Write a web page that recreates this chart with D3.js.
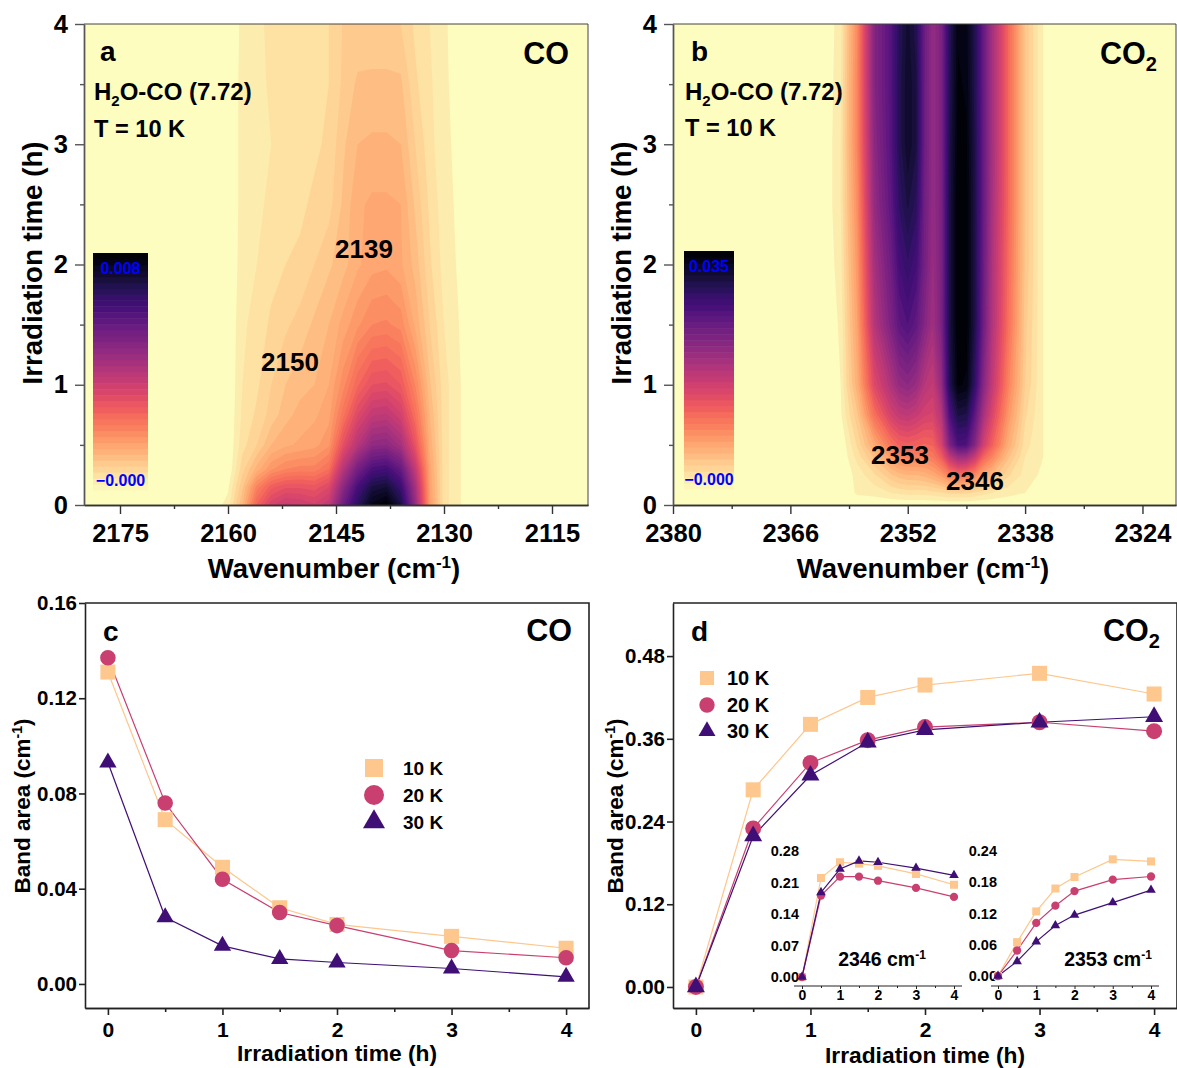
<!DOCTYPE html>
<html>
<head>
<meta charset="utf-8">
<script src="https://cdn.jsdelivr.net/npm/d3@7"></script>
<style>
    body { margin: 0; background: #fff; }
    text { font-family: "Liberation Sans", Arial, sans-serif; font-weight: bold; fill: #000; }
</style>
</head>
<body>
<div id="chart"></div>
<script>
// map a: band of CO, values in % of the colour bar top
var coWavenumbers = [2164, 2162, 2160, 2158, 2156, 2154, 2152, 2150, 2148, 2146, 2144, 2142, 2140, 2138, 2136, 2134, 2132, 2130, 2128, 2126, 2124];
var coTimes = [0, 0.15, 0.3, 0.5, 0.75, 1, 1.5, 2, 2.5, 3, 3.5, 4];
var coMap = [
    [0, 1, 3.5, 15, 33, 42, 46, 45, 43, 47, 68, 84, 96, 100, 88, 58, 21, 6, 3, 0, 0],
    [0, 0, 2, 12, 26, 34, 37, 37, 36, 40, 60, 77, 88, 90, 80, 54, 20, 6, 3, 0, 0],
    [0, 0, 0, 9, 16, 22, 25, 26, 26, 30, 50, 66, 76, 78, 70, 47, 19, 6, 3, 0, 0],
    [0, 0, 0, 6.5, 10, 15, 17, 18, 19, 22, 38, 50, 59, 60, 54, 37, 17, 6, 3, 0, 0],
    [0, 0, 0, 5.5, 8, 11, 14, 16, 17, 19, 29, 40, 47, 48, 43, 30, 15, 6, 3, 0, 0],
    [0, 0, 0, 5, 7, 10, 12.5, 14, 15, 17.5, 24, 32, 37.5, 38, 35, 25, 13, 6, 3, 0, 0],
    [0, 0, 0, 4.5, 6, 8, 9.5, 11, 13, 15, 18.5, 22, 25, 25.5, 24, 17, 10, 5, 2.6, 0, 0],
    [0, 0, 0, 3.8, 5, 6.5, 7.5, 8, 10, 12, 14, 17, 19, 19.5, 18, 14, 8, 4, 2.2, 0, 0],
    [0, 0, 0, 3.5, 4, 6, 6.5, 7, 8, 9, 13, 17, 18, 18, 17.5, 12, 7, 3.5, 2, 0, 0],
    [0, 0, 0, 3.5, 4, 5, 6, 6, 7, 8, 12, 15, 15.5, 15.5, 15, 10, 6, 3, 2, 0, 0],
    [0, 0, 0, 3.5, 4, 5.5, 6, 6, 6.5, 7.5, 10.5, 13, 13, 13, 13, 8, 5.5, 3, 1.5, 0, 0],
    [0, 0, 0, 3.2, 4.5, 5.5, 6, 6, 6, 7.5, 10.2, 10.5, 11, 11, 10, 7, 5, 3, 1, 0, 0]
];

// map b: band of CO2, same units
var co2Wavenumbers = [2364, 2362, 2360, 2358, 2356, 2354, 2353, 2352, 2351, 2350, 2349, 2348, 2347, 2346, 2345, 2344, 2343, 2342, 2340, 2338, 2336, 2334];
var co2Times = [0, 0.1, 0.25, 0.4, 0.5, 0.75, 1, 1.5, 2, 2.5, 3, 3.5, 4];
var co2Map = [
    [0, 0, 0, 0, 0, 0, 0, 0, 0, 0, 0, 0, 0, 0, 0, 0, 0, 0, 0, 0, 0, 0],
    [0, 0, 0, 3, 3.5, 5, 5.5, 6, 6, 6, 6.5, 7, 8, 8, 8, 7, 6, 5, 3.5, 2.5, 0, 0],
    [0, 0, 0, 3.5, 7, 12, 14, 15, 15, 16, 18, 21, 27, 30, 29, 25, 18, 15, 8, 4, 2, 0],
    [0, 0, 0, 6, 13, 21, 25, 26, 26, 26, 28, 34, 48, 56, 55, 46, 33, 26, 13, 5, 2.7, 0],
    [0, 0, 0, 8, 18, 29, 33, 34, 33, 32, 33, 42, 64, 76, 75, 62, 44, 34, 17, 6, 2.7, 0],
    [0, 0, 2, 12, 30, 43, 47, 48, 46, 43, 42, 50, 76, 88, 87, 72, 54, 42, 22, 8, 2.7, 0],
    [0, 0, 2.5, 17, 40, 52, 58, 60, 57, 50, 47, 58, 86, 98, 97, 82, 62, 48, 26, 10, 2.7, 0],
    [0, 0, 3, 20, 50, 64, 72, 75, 71, 62, 55, 64, 88, 100, 99, 87, 68, 52, 30, 11, 2.7, 0],
    [0, 0, 4, 22, 54, 68, 78, 82, 78, 66, 57, 64, 88, 100, 99, 87, 69, 53, 31, 12, 2.7, 0],
    [0, 0, 5, 24, 58, 72, 83, 88, 84, 67, 58, 64, 88, 100, 99, 87, 70, 54, 32, 12, 2.7, 0],
    [0, 0, 5, 26, 60, 74, 86, 92, 88, 68, 58, 64, 87, 99, 98, 87, 70, 55, 32, 12, 2.7, 0],
    [0, 0, 4.5, 26, 62, 74, 86, 92, 88, 68, 58, 64, 86, 98, 97, 86, 70, 55, 32, 12, 2.7, 0],
    [0, 0, 4, 25, 62, 74, 85, 91, 86, 68, 58, 64, 85, 97, 96, 86, 70, 55, 32, 12, 2.7, 0]
];

var hours = [0, 0.5, 1, 1.5, 2, 3, 4];
var seriesNames = ["10 K", "20 K", "30 K"];
var seriesColors = ["#fdc78d", "#c93f6f", "#3f0f76"];
var seriesSymbols = [d3.symbolSquare, d3.symbolCircle, d3.symbolTriangle];

// panel c
var coArea10K = [0.131, 0.069, 0.049, 0.032, 0.025, 0.020, 0.015];
var coArea20K = [0.137, 0.076, 0.044, 0.030, 0.0245, 0.014, 0.011];
var coArea30K = [0.093, 0.028, 0.016, 0.0105, 0.009, 0.0065, 0.003];

// panel d
var co2Area10K = [0, 0.286, 0.381, 0.420, 0.438, 0.455, 0.425];
var co2Area20K = [0, 0.230, 0.325, 0.358, 0.377, 0.384, 0.371];
var co2Area30K = [0, 0.219, 0.307, 0.355, 0.373, 0.384, 0.392];

// insets of panel d
var peak2346_10K = [0, 0.220, 0.255, 0.252, 0.247, 0.229, 0.205];
var peak2346_20K = [0, 0.181, 0.223, 0.223, 0.214, 0.198, 0.178];
var peak2346_30K = [0, 0.188, 0.240, 0.258, 0.255, 0.242, 0.226];
var peak2353_10K = [0, 0.065, 0.124, 0.168, 0.190, 0.224, 0.220];
var peak2353_20K = [0, 0.049, 0.102, 0.135, 0.163, 0.185, 0.191];
var peak2353_30K = [0, 0.028, 0.066, 0.097, 0.117, 0.141, 0.165];

var svg = d3.select("#chart").append("svg")
    .attr("width", 1177)
    .attr("height", 1068)
    .style("display", "block");

var levelCount = 40;

// top of the colour bar is black, bottom the pale end of magma
function levelColor(i) {
    return d3.interpolateMagma(1 - (i + 0.5) / levelCount);
}

// one major axis with labels and a second one with short unlabelled ticks
function addAxis(parent, maker, scale, o) {
    var g = parent.append("g").attr("transform", o.translate);
    if (o.minor) {
        g.append("g").call(maker(scale).tickValues(o.minor).tickSize(o.minorLen).tickSizeOuter(0).tickFormat(""));
    }
    var major = g.append("g")
        .call(maker(scale).tickValues(o.major).tickSize(o.majorLen).tickSizeOuter(0).tickPadding(o.padding).tickFormat(o.format));
    major.selectAll("text").attr("font-size", o.size);
    g.selectAll("path, line").attr("stroke", o.color).attr("stroke-width", o.width);
    g.selectAll("g").attr("font-family", null);
    return g;
}

function addFrame(parent, xRange, yRange, color, width) {
    parent.append("path")
        .attr("d", "M" + xRange[0] + "," + yRange[1] + "H" + xRange[1] + "V" + yRange[0])
        .attr("fill", "none")
        .attr("stroke", color)
        .attr("stroke-width", width);
}

function addText(parent, str, x, y, size, anchor, color) {
    return parent.append("text")
        .attr("x", x)
        .attr("y", y)
        .attr("font-size", size)
        .attr("text-anchor", anchor || "start")
        .style("fill", color || "#000")
        .text(str);
}

function addScript(textSel, str, size, dy) {
    textSel.append("tspan").attr("font-size", size).attr("dy", dy).text(str);
    return textSel;
}

function addWavenumberLabel(cx, y) {
    var t = addText(svg, "Wavenumber (cm", cx, y, 27.5, "middle");
    addScript(t, "-1", 17, -10);
    t.append("tspan").attr("dy", 10).text(")");
}

function addAreaLabel(x, cy) {
    var t = svg.append("text")
        .attr("transform", "translate(" + x + "," + cy + ") rotate(-90)")
        .attr("font-size", 22.5)
        .attr("text-anchor", "middle")
        .text("Band area (cm");
    addScript(t, "-1", 14, -8);
    t.append("tspan").attr("dy", 8).text(")");
}

function addH2oLabel(x, y) {
    var t = addText(svg, "H", x, y, 24);
    addScript(t, "2", 15, 6);
    t.append("tspan").attr("dy", -6).text("O-CO (7.72)");
}

function addCo2Label(x, y) {
    var t = addText(svg, "CO", x, y, 30.5);
    addScript(t, "2", 20, 7);
}

// contour map with colour bar
function drawMap(opts) {
    var g = svg.append("g");
    var x = d3.scaleLinear().domain(opts.xDomain).range(opts.xRange);
    var y = d3.scaleLinear().domain([0, 4]).range(opts.yRange);
    var nx = opts.wavenumbers.length, ny = opts.times.length;

    // d3.contours works on grid indices, sample i sits at i + 0.5
    var xIndex = d3.scaleLinear()
        .domain(opts.wavenumbers.map(function (d, i) { return i + 0.5; }))
        .range(opts.wavenumbers.map(function (d) { return x(d); }))
        .clamp(true);
    var yIndex = d3.scaleLinear()
        .domain(opts.times.map(function (d, i) { return i + 0.5; }))
        .range(opts.times.map(function (d) { return y(d); }))
        .clamp(true);
    var path = d3.geoPath(d3.geoTransform({
        point: function (px, py) { this.stream.point(xIndex(px), yIndex(py)); }
    }));

    g.append("rect")
        .attr("x", opts.xRange[0])
        .attr("y", opts.yRange[1])
        .attr("width", opts.xRange[1] - opts.xRange[0])
        .attr("height", opts.yRange[0] - opts.yRange[1])
        .attr("fill", d3.interpolateMagma(1));

    var levels = d3.range(1, levelCount);
    var contours = d3.contours()
        .size([nx, ny])
        .thresholds(levels.map(function (i) { return i * 100 / levelCount; }))
        (d3.merge(opts.values));

    g.selectAll("path.level")
        .data(contours)
        .enter()
        .append("path")
        .attr("class", "level")
        .attr("d", path)
        .attr("fill", function (d, i) { return levelColor(levels[i]); });

    // colour bar
    var bar = d3.scaleBand()
        .domain(d3.range(levelCount))
        .range([opts.bar.y1, opts.bar.y0]);
    g.selectAll("rect.bar")
        .data(d3.range(levelCount))
        .enter()
        .append("rect")
        .attr("class", "bar")
        .attr("x", opts.bar.x0)
        .attr("y", function (d) { return bar(d); })
        .attr("width", opts.bar.x1 - opts.bar.x0)
        .attr("height", bar.bandwidth() + 0.5)
        .attr("fill", levelColor);
    var cx = (opts.bar.x0 + opts.bar.x1) / 2;
    addText(g, opts.barTop, cx, opts.bar.y0 + 21, 16, "middle", "#0000ff");
    addText(g, "\u22120.000", cx, opts.bar.y1 - 4, 16, "middle", "#0000ff");

    addFrame(g, opts.xRange, opts.yRange, "#444", 1);

    addAxis(g, d3.axisBottom, x, {
        major: opts.xMajor, minor: opts.xMinor, format: d3.format("d"), size: 25.5,
        majorLen: 9, minorLen: 4, padding: 10, translate: "translate(0," + opts.yRange[0] + ")", color: "#333", width: 1.4
    });
    addAxis(g, d3.axisLeft, y, {
        major: [0, 1, 2, 3, 4], minor: [0.5, 1.5, 2.5, 3.5], format: d3.format("d"), size: 25.5,
        majorLen: 9, minorLen: 4, padding: 7, translate: "translate(" + opts.xRange[0] + ",0)", color: "#555", width: 1.4
    });
}

// line and symbol series
function drawSeries(parent, x, y, data, markerSize) {
    var line = d3.line()
        .x(function (d, i) { return x(hours[i]); })
        .y(function (d) { return y(d); });
    data.forEach(function (values, s) {
        parent.append("path")
            .attr("d", line(values))
            .attr("fill", "none")
            .attr("stroke", seriesColors[s])
            .attr("stroke-width", 1.2);
    });
    data.forEach(function (values, s) {
        parent.selectAll("path.mark" + s)
            .data(values)
            .enter()
            .append("path")
            .attr("class", "mark" + s)
            .attr("transform", function (d, i) { return "translate(" + x(hours[i]) + "," + y(d) + ")"; })
            .attr("d", d3.symbol().type(seriesSymbols[s]).size(markerSize[s]))
            .attr("fill", seriesColors[s]);
    });
}

function drawLegend(x, ys, textX, size, markerSize) {
    seriesNames.forEach(function (name, s) {
        svg.append("path")
            .attr("transform", "translate(" + x + "," + ys[s] + ")")
            .attr("d", d3.symbol().type(seriesSymbols[s]).size(markerSize[s]))
            .attr("fill", seriesColors[s]);
        addText(svg, name, textX, ys[s] + 7, size);
    });
}

function drawPanel(opts) {
    var g = svg.append("g");
    var x = d3.scaleLinear().domain([-0.2, 4.2]).range(opts.xRange);
    var y = d3.scaleLinear().domain(opts.yDomain).range(opts.yRange);
    addFrame(g, opts.xRange, opts.yRange, "#222", 1.6);
    addAxis(g, d3.axisBottom, x, {
        major: [0, 1, 2, 3, 4], minor: [0.5, 1.5, 2.5, 3.5], format: d3.format("d"), size: 21,
        majorLen: 7, minorLen: 4, padding: 7, translate: "translate(0," + opts.yRange[0] + ")", color: "#222", width: 1.6
    });
    addAxis(g, d3.axisLeft, y, {
        major: opts.yMajor, format: d3.format(".2f"), size: 20.5,
        majorLen: 6, padding: 2, translate: "translate(" + opts.xRange[0] + ",0)", color: "#222", width: 1.6
    });
    drawSeries(g, x, y, opts.data, opts.markers);
    return g;
}

function drawInset(opts) {
    var g = svg.append("g");
    var x = d3.scaleLinear().domain([0, 4]).range(opts.xPoints);
    var y = d3.scaleLinear().domain([0, opts.yMajor[opts.yMajor.length - 1]]).range(opts.yPoints);
    var axisG = addAxis(g, d3.axisBottom, x, {
        major: [0, 1, 2, 3, 4], minor: [0.5, 1.5, 2.5, 3.5], format: d3.format("d"), size: 14,
        majorLen: 3, minorLen: 2, padding: 1, translate: "translate(0," + opts.axisY + ")", color: "#222", width: 1
    });
    axisG.selectAll(".domain").remove();
    g.append("line")
        .attr("x1", opts.axisX[0]).attr("x2", opts.axisX[1])
        .attr("y1", opts.axisY).attr("y2", opts.axisY)
        .attr("stroke", "#222");
    opts.yMajor.forEach(function (v) {
        addText(g, d3.format(".2f")(v), opts.labelRight, y(v) + 5, 14.5, "end");
    });
    drawSeries(g, x, y, opts.data, [64, 54, 40]);
    var t = addText(g, opts.peak + " cm", opts.peakX, 966, 19.5, "middle");
    addScript(t, "-1", 12, -7);
}

drawMap({
    xDomain: [2180, 2110],
    xRange: [84, 588],
    yRange: [505, 24],
    wavenumbers: coWavenumbers,
    times: coTimes,
    values: coMap,
    xMajor: [2175, 2160, 2145, 2130, 2115],
    xMinor: [2167.5, 2152.5, 2137.5, 2122.5],
    bar: { x0: 93, x1: 148, y0: 253, y1: 490 },
    barTop: "0.008"
});

drawMap({
    xDomain: [2380, 2320],
    xRange: [673, 1176],
    yRange: [505, 24],
    wavenumbers: co2Wavenumbers,
    times: co2Times,
    values: co2Map,
    xMajor: [2380, 2366, 2352, 2338, 2324],
    xMinor: [2373, 2359, 2345, 2331],
    bar: { x0: 684, x1: 734, y0: 251, y1: 489 },
    barTop: "0.035"
});

drawPanel({
    xRange: [85, 589],
    yRange: [1008, 603],
    yDomain: [-0.0101, 0.16],
    yMajor: [0, 0.04, 0.08, 0.12, 0.16],
    markers: [225, 190, 130],
    data: [coArea10K, coArea20K, coArea30K]
});

drawPanel({
    xRange: [673, 1177],
    yRange: [1008, 603],
    yDomain: [-0.0305, 0.557],
    yMajor: [0, 0.12, 0.24, 0.36, 0.48],
    markers: [225, 200, 140],
    data: [co2Area10K, co2Area20K, co2Area30K]
});

drawInset({
    xPoints: [802, 954],
    yPoints: [977, 851],
    axisX: [794, 962],
    axisY: 986,
    labelRight: 799,
    yMajor: [0, 0.07, 0.14, 0.21, 0.28],
    peak: "2346",
    peakX: 882,
    data: [peak2346_10K, peak2346_20K, peak2346_30K]
});

drawInset({
    xPoints: [998, 1151],
    yPoints: [976, 851],
    axisX: [991, 1159],
    axisY: 986,
    labelRight: 997,
    yMajor: [0, 0.06, 0.12, 0.18, 0.24],
    peak: "2353",
    peakX: 1108,
    data: [peak2353_10K, peak2353_20K, peak2353_30K]
});

drawLegend(374, [768, 795, 822], 403, 19, [324, 314, 210]);
drawLegend(707, [678, 705, 731], 727, 20, [196, 186, 125]);

// labels of the four panels
addText(svg, "a", 100, 61, 28);
addText(svg, "CO", 569, 64, 30.5, "end");
addH2oLabel(94, 100);
addText(svg, "T = 10 K", 94, 137, 23.6);
addText(svg, "2139", 364, 258, 26, "middle");
addText(svg, "2150", 290, 371, 26, "middle");

addText(svg, "b", 691, 61, 28);
addCo2Label(1100, 64);
addH2oLabel(685, 100);
addText(svg, "T = 10 K", 685, 136, 23.6);
addText(svg, "2353", 900, 464, 26, "middle");
addText(svg, "2346", 975, 490, 26, "middle");

addWavenumberLabel(334, 578);
addWavenumberLabel(923, 578);
[[42, 263], [631, 263]].forEach(function (p) {
    svg.append("text")
        .attr("transform", "translate(" + p[0] + "," + p[1] + ") rotate(-90)")
        .attr("font-size", 27.7)
        .attr("text-anchor", "middle")
        .text("Irradiation time (h)");
});

addText(svg, "c", 103, 641, 28);
addText(svg, "CO", 572, 641, 30.5, "end");
addText(svg, "d", 691, 641, 28);
addCo2Label(1103, 641);

addAreaLabel(30, 806);
addAreaLabel(623, 806);
addText(svg, "Irradiation time (h)", 337, 1061, 22.8, "middle");
addText(svg, "Irradiation time (h)", 925, 1063, 22.8, "middle");
</script>
</body>
</html>
